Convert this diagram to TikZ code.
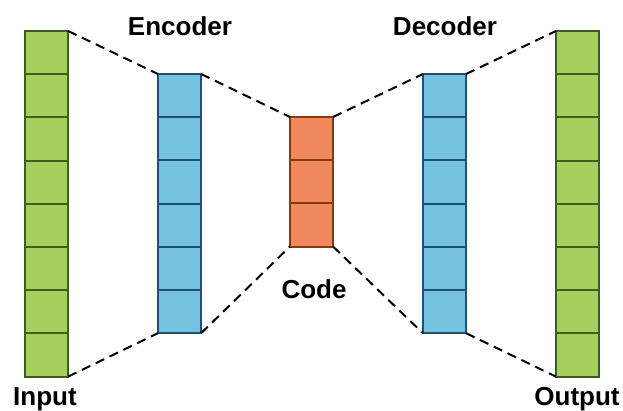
\documentclass[tikz,border=0pt]{standalone}
\usepackage{fontspec}
\setmainfont{Liberation Sans}
\begin{document}
\begin{tikzpicture}[x=0.75pt,y=-0.75pt,
  cell/.style={draw,line width=1.5pt,minimum width=32.4pt,minimum height=32.4pt,inner sep=0pt,outer sep=0pt},
  greencell/.style={cell,fill=greenfill,draw=greenline},
  bluecell/.style={cell,fill=bluefill,draw=blueline},
  orangecell/.style={cell,fill=orangefill,draw=orangeline},
  link/.style={line width=1.5pt,dash pattern=on 7pt off 4.5pt},
  lbl/.style={font=\bfseries\fontsize{19.5pt}{22pt}\selectfont,anchor=base,inner sep=0pt}]
\definecolor{greenfill}{HTML}{A6D05C}
\definecolor{greenline}{HTML}{3B5E22}
\definecolor{bluefill}{HTML}{74C2E0}
\definecolor{blueline}{HTML}{1F4E79}
\definecolor{orangefill}{HTML}{F2895E}
\definecolor{orangeline}{HTML}{843C0C}
\useasboundingbox (0,0) rectangle (623,410);
\fill[white] (0,0) rectangle (623,410);
% input and output layers
\foreach \i in {1,...,8} {
  \node[greencell] (in\i) at (46.5,{31+21.6+43.2*(\i-1)}) {};
  \node[greencell] (out\i) at (577.5,{31+21.6+43.2*(\i-1)}) {};
}
% encoder and decoder layers
\foreach \i in {1,...,6} {
  \node[bluecell] (enc\i) at (179.5,{74+21.6+43.2*(\i-1)}) {};
  \node[bluecell] (dec\i) at (444.5,{74+21.6+43.2*(\i-1)}) {};
}
% bottleneck
\foreach \i in {1,...,3} {
  \node[orangecell] (code\i) at (311.5,{117+21.6+43.2*(\i-1)}) {};
}
% dashed funnels between layers
\draw[link] (in1.north east) -- (enc1.north west);
\draw[link] (in8.south east) -- (enc6.south west);
\draw[link] (enc1.north east) -- (code1.north west);
\draw[link] (enc6.south east) -- (code3.south west);
\draw[link] (code1.north east) -- (dec1.north west);
\draw[link] (code3.south east) -- (dec6.south west);
\draw[link] (dec1.north east) -- (out1.north west);
\draw[link] (dec6.south east) -- (out8.south west);
% labels
\node[lbl] (lenc) at (180,36) {Encoder};
\node[lbl] (ldec) at (445,36) {Decoder};
\node[lbl] (lcode) at (314,298) {Code};
\node[lbl] (lin) at (45,405) {Input};
\node[lbl] (lout) at (577,405) {Output};
\end{tikzpicture}
\end{document}
